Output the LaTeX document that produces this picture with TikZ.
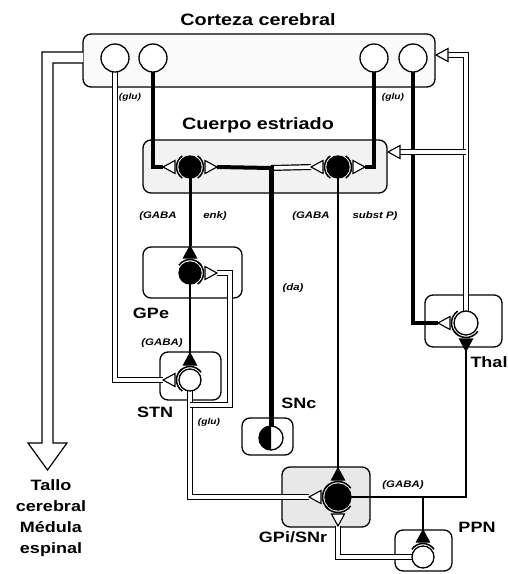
\documentclass[tikz,border=0pt]{standalone}
\usepackage{fontspec}
\setmainfont[FakeStretch=1.2]{Liberation Sans}
\usetikzlibrary{calc}
\pgfdeclarelayer{bg}
\pgfsetlayers{bg,main}
\newcommand\syn[5]{% node, angle, fill, apex name, cell radius
  \pgfmathsetmacro\sba{#5+4}\pgfmathsetmacro\sap{#5+16}\pgfmathsetmacro\sar{#5+2.5}%
  \draw[line width=1.1pt, fill=#3] ($(#1)+(#2:\sba)+(#2+90:6.5)$) -- ($(#1)+(#2:\sap)$) -- ($(#1)+(#2:\sba)+(#2-90:6.5)$) -- cycle;
  \draw[line width=1.5pt] ($(#1)+(#2-55:\sar)$) arc[start angle=#2-55, end angle=#2+55, radius=\sar];
  \coordinate (#4) at ($(#1)+(#2:\sap)$);
}
\begin{document}
\begin{tikzpicture}[x=1pt,y=-1pt,
  neuron/.style={circle, draw, line width=1.3pt, inner sep=0pt, minimum size=22pt},
  bk/.style={neuron, fill=black},
  wt/.style={neuron, fill=white},
  cx/.style={neuron, fill=white, minimum size=28pt},
  box/.style={draw, line width=1.3pt, rounded corners=8pt},
  axon/.style={line width=3.5pt},
  thinaxon/.style={line width=1.8pt},
  tube/.style={double, double distance=3.6pt, line width=1.2pt},
  title/.style={font=\bfseries\fontsize{16.5}{19}\selectfont},
  big/.style={font=\bfseries\fontsize{15}{21}\selectfont, align=center},
  small/.style={font=\bfseries\itshape\fontsize{9.5}{11}\selectfont},
  tiny/.style={font=\bfseries\itshape\fontsize{8.5}{10}\selectfont}]
\useasboundingbox (0,0) rectangle (508,574);
% titles
\node[title] (tcx) at (258,20) {Corteza cerebral};
\node[title] (tst) at (258,125) {Cuerpo estriado};
% neurons
\node[cx] (c1) at (115,58) {};
\node[cx] (c2) at (153,58) {};
\node[cx] (c3) at (374,58) {};
\node[cx] (c4) at (413,58) {};
\node[bk] (sl) at (190,167) {};
\node[bk] (sr) at (338,167) {};
\node[bk] (gpe) at (190,273) {};
\node[wt] (stn) at (190,380) {};
\node[wt, minimum size=24pt] (snc) at (271,438) {};
\node[bk, minimum size=26pt] (gpi) at (338,497) {};
\node[wt, minimum size=24pt] (thal) at (466,323) {};
\node[wt] (ppn) at (423,557) {};
% synapses
\syn{sl}{180}{white}{slW}{11}
\syn{sl}{0}{white}{slE}{11}
\syn{sr}{180}{white}{srW}{11}
\syn{sr}{0}{white}{srE}{11}
\syn{gpe}{-90}{black}{gpeN}{11}
\syn{gpe}{0}{white}{gpeE}{11}
\syn{stn}{-90}{black}{stnN}{11}
\syn{stn}{180}{white}{stnW}{11}
\syn{gpi}{-90}{black}{gpiN}{13}
\syn{gpi}{180}{white}{gpiW}{13}
\syn{gpi}{90}{white}{gpiS}{13}
\syn{thal}{180}{white}{thW}{12}
\syn{thal}{90}{black}{thS}{12}
\syn{ppn}{-90}{black}{ppnN}{11}
% SNc half-black
\fill ($(snc)+(90:12)$) arc[start angle=90, end angle=270, radius=12] -- cycle;
\begin{pgfonlayer}{bg}
% boxes
\draw[box, fill=gray!4] (83,34) rectangle (435,87);
\draw[box, fill=gray!10] (143,140) rectangle (387,193);
\draw[box] (143,247) rectangle (242,298);
\draw[box] (160,352) rectangle (221,400);
\draw[box] (242,418) rectangle (293,455);
\draw[box, fill=gray!18] (282,467) rectangle (370,527);
\draw[box] (425,295) rectangle (502,347);
\draw[box] (395,530) rectangle (452,571);
% output tube to brainstem
\draw[line width=1.2pt, fill=white] (83,52) -- (42,52) -- (42,443) -- (28,443) -- (47.5,470) -- (67,443) -- (53,443) -- (53,63) -- (83,63);
% cortex projections
\coordinate (k1) at (115,380);
\draw[tube] (c1.center) -- (k1) -- (stnW);
\draw[axon] (c2.center) |- (slW);
\draw[axon] (c3.center) |- (srE);
\draw[axon] (c4.center) |- (thW);
% thalamus to cortex and striatum
\coordinate (t1) at (466,55);
\coordinate (t2) at (466,152);
\coordinate (ca) at (448,55);
\coordinate (sa) at (400,152);
\draw[tube] (thal.center) -- (t1) -- (ca);
\draw[tube] (t2) -- (sa);
\fill[white] (463.4,150.2) rectangle (467.8,153.8);
\draw[line width=1.1pt, fill=white] (436,55) -- (448,48.5) -- (448,61.5) -- cycle;
\draw[line width=1.1pt, fill=white] (388,152) -- (400,145.5) -- (400,158.5) -- cycle;
% striatum outputs
\draw[line width=3pt] (sl.center) -- (gpeN);
\draw[thinaxon] (sr.center) -- (gpiN);
% SNc dopamine
\coordinate (d1) at (271,168);
\draw[line width=5pt] (snc.center) -- (d1);
\draw[line width=4pt] (d1) -- (slE);
\draw[tube] (d1) -- (srW);
\draw[line width=5pt] (271,180) -- (271,166);
% GPe -> STN
\draw[thinaxon] (gpe.center) -- (stnN);
% STN outputs
\coordinate (s1) at (190,405);
\coordinate (s2) at (230,405);
\coordinate (s3) at (230,273);
\draw[tube] (stn.center) |- (gpiW);
\draw[tube] (s1) -- (s2) -- (s3) -- (gpeE);
\fill[white] (188.2,403.2) rectangle (192.6,406.8);
% GPi outputs
\coordinate (g1) at (466,497);
\coordinate (g2) at (423,497);
\draw[thinaxon] (gpi.center) -- (g1) -- (thS);
\draw[thinaxon] (g2) -- (ppnN);
% PPN -> GPi
\draw[tube] (ppn.center) -| (gpiS);
\end{pgfonlayer}
% labels
\node[tiny] (l1) at (130,97) {(glu)};
\node[tiny] (l2) at (393,97) {(glu)};
\node[small] (l3) at (158,216) {(GABA};
\node[small] (l4) at (215,216) {enk)};
\node[small] (l5) at (311,216) {(GABA};
\node[small] (l6) at (375,216) {subst P)};
\node[small] (l7) at (293,288) {(da)};
\node[big] (l8) at (151,313) {GPe};
\node[small] (l9) at (162,343) {(GABA)};
\node[big] (l10) at (155,412) {STN};
\node[tiny] (l11) at (209,422) {(glu)};
\node[big] (l12) at (299,403) {SNc};
\node[big] (l13) at (489,362) {Thal};
\node[small] (l14) at (403,485) {(GABA)};
\node[big] (l15) at (293,537) {GPi/SNr};
\node[big] (l16) at (477,527) {PPN};
\node[big] (l17) at (51,518) {Tallo\\cerebral\\Médula\\espinal};
\end{tikzpicture}
\end{document}
